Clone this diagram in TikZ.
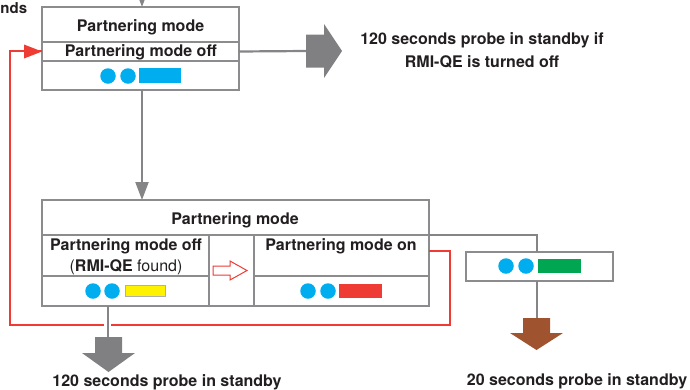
\documentclass[tikz,border=0pt]{standalone}
\usepackage{fontspec}
\setmainfont{TeX Gyre Heros}
\usetikzlibrary{arrows.meta}
\definecolor{boxgray}{HTML}{8C8C8E}
\definecolor{linegray}{HTML}{858588}
\definecolor{arrgray}{HTML}{808083}
\definecolor{ledblue}{HTML}{00AEEF}
\definecolor{ledyellow}{HTML}{FFF200}
\definecolor{ledred}{HTML}{EE3B33}
\definecolor{ledgreen}{HTML}{00A651}
\definecolor{redline}{HTML}{EE3B33}
\definecolor{brownarr}{HTML}{A0532F}
\definecolor{txtc}{HTML}{231F20}
\begin{document}
\begin{tikzpicture}[x=1pt,y=-1pt,
  cell/.style={draw=boxgray, line width=1.4pt, inner sep=0pt, outer sep=0pt},
  frame/.style={draw=boxgray, line width=2.6pt},
  txt/.style={font=\fontsize{16}{19}\selectfont\bfseries, text=txtc, inner sep=0pt, anchor=base, align=center},
  led/.style={circle, fill=ledblue, minimum size=15.5pt, inner sep=0pt},
  ledrect/.style={rectangle, inner sep=0pt, minimum width=42pt, minimum height=14pt},
  conn/.style={draw=linegray, line width=2.2pt},
  redconn/.style={draw=redline, line width=2pt},
  tipg/.style={-{Triangle[width=13pt,length=18pt]}},
  tipr/.style={-{Triangle[width=14pt,length=18pt]}}]
\useasboundingbox (0,0) rectangle (690,389);

% ---------- top box ----------
\node[cell, minimum width=197pt, minimum height=35pt] (tbh) at (140.5,24.5) {};
\node[cell, minimum width=197pt, minimum height=19pt] (tbo) at (140.5,51.5) {};
\node[cell, minimum width=197pt, minimum height=29pt] (tbl) at (140.5,75.5) {};
\draw[frame] (tbh.north west) rectangle (tbl.south east);
\node[txt] (tbht) at (140.5,31) {Partnering mode};
\node[txt] (tbot) at (140.8,56.5) {Partnering mode off};
\node[led] (tl1) at (108,76) {};
\node[led] (tl2) at (128,76) {};
\node[ledrect, fill=ledblue, minimum height=15pt] (tr1) at (160,75.5) {};

% ---------- bottom box ----------
\node[cell, minimum width=387pt, minimum height=35pt] (bbh) at (235.5,217.5) {};
\node[cell, minimum width=167pt, minimum height=41pt] (bboff) at (125.5,255.5) {};
\node[cell, minimum width=45pt, minimum height=71pt] (bbmid) at (231.5,270.5) {};
\node[cell, minimum width=175pt, minimum height=41pt] (bbon) at (341.5,255.5) {};
\node[cell, minimum width=167pt, minimum height=30pt] (bbloff) at (125.5,291) {};
\node[cell, minimum width=175pt, minimum height=30pt] (bblon) at (341.5,291) {};
\draw[frame] (bbh.north west) rectangle (bblon.south east);
\node[txt] (bbht) at (235,224) {Partnering mode};
\node[txt] (bbofft) at (126,250.7) {Partnering mode off};
\node[txt] (bbfound) at (126,271.7) {\mdseries(\textbf{RMI-QE} found)};
\node[txt] (bbont) at (341,250.7) {Partnering mode on};
\node[led] (bl1) at (93,291) {};
\node[led] (bl2) at (112,291) {};
\node[ledrect, fill=ledyellow, draw=boxgray!70, line width=1.5pt, minimum width=40pt, minimum height=11pt] (br1) at (145.5,291) {};
\node[led] (bl3) at (308,291) {};
\node[led] (bl4) at (328,291) {};
\node[ledrect, fill=ledred, minimum width=43pt] (br2) at (360.5,291) {};
% hollow red arrow
\draw[redline, line width=1pt, fill=white] (213,266) -- (230,266) -- (230,261) -- (247,270.5) -- (230,280) -- (230,275) -- (213,275) -- cycle;

% ---------- green box ----------
\node[cell, line width=2.4pt, minimum width=147pt, minimum height=29pt] (gb) at (539.5,266.5) {};
\node[led] (gl1) at (506,266) {};
\node[led] (gl2) at (526,266) {};
\node[ledrect, fill=ledgreen, minimum width=43pt] (gr1) at (559.5,266) {};

% ---------- texts ----------
\node[txt, anchor=base west, font=\fontsize{15}{18}\selectfont\bfseries] (cut) at (0.3,13.3) {nds};
\node[txt] (rt1) at (482,44) {120 seconds probe in standby if};
\node[txt] (rt2) at (482,67.7) {RMI-QE is turned off};
\node[txt] (blt) at (167,386) {120 seconds probe in standby};
\node[txt] (brt) at (577,385.7) {20 seconds probe in standby};

% ---------- connectors ----------
\coordinate (topin) at (142,-14);
\draw[conn, tipg] (topin) -- (topin |- tbh.north);
\draw[conn, tipg] ([xshift=1.5pt]tbl.south) -- ([xshift=1.5pt]tbl.south |- bbh.north);

% right big gray arrow
\coordinate (arrR) at (306,51);
\draw[conn] (tbo.east) -- (arrR);
\fill[arrgray] (arrR) ++(0,-16.5) -- ++(18,0) -- ++(0,-10.5) -- (342,51) -- (324,78) -- (324,67.5) -- (306,67.5) -- cycle;

% red feedback loop
\coordinate (rA) at (450,251);
\coordinate (rB) at (450,325);
\coordinate (rC) at (10,325);
\coordinate (rD) at (10,51);
\draw[redconn, line join=miter] ([yshift=4.5pt]bbon.east) -- (rA) -- (rB) -- (rC) -- (rD) -- (rD -| tbo.west);
\draw[redconn, draw=none, fill=redline] (tbo.west) -- ++(-18,-7) -- ++(0,14) -- cycle;

% bottom-left gray arrow
\coordinate (bla) at (107.7,337);
\draw[white, line width=7pt] (107.2,318) -- (107.2,332);
\draw[conn] (bla |- bbloff.south) -- (bla);
\fill[arrgray] (95,337) -- (122,337) -- (122,353) -- (135,353) -- (108.5,372) -- (82,353) -- (95,353) -- cycle;

% green box connectors and brown arrow
\coordinate (gA) at (537,235);
\coordinate (bra) at (537,318);
\draw[conn, line width=2pt] (bbh.south east) -- (gA) -- (gA |- gb.north);
\draw[conn, line width=2pt] (gA |- gb.south) -- (bra);
\fill[brownarr] (523,318) -- (550,318) -- (550,333) -- (563,333) -- (536.5,350) -- (510,333) -- (523,333) -- cycle;
\end{tikzpicture}
\end{document}
